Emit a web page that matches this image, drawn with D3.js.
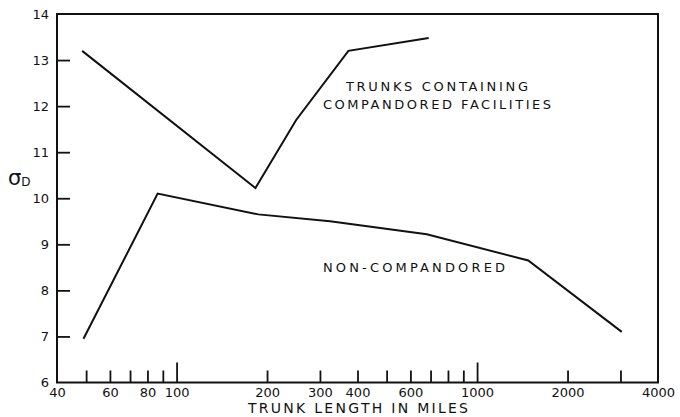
<!DOCTYPE html>
<html>
<head>
<meta charset="utf-8">
<script src="https://cdn.jsdelivr.net/npm/d3@7"></script>
<style>
  html, body { margin: 0; padding: 0; background: #fff; }
  svg { display: block; }
  text { font-family: "DejaVu Sans", sans-serif; fill: #111; }
</style>
</head>
<body>
<svg id="chart" width="680" height="417"></svg>
<script>
// Trunk length (miles) and standard deviation σD for each series
const compandoredMiles  = [48.5, 183, 250, 373, 690];
const compandoredSigma  = [13.2, 10.22, 11.7, 13.2, 13.48];
const nonCompandoredMiles = [49, 86.5, 187, 324, 680, 1480, 3030];
const nonCompandoredSigma = [6.95, 10.1, 9.65, 9.5, 9.22, 8.65, 7.1];

// Axis ticks and labels
const yTickValues = [6, 7, 8, 9, 10, 11, 12, 13, 14];
const xMinorTicks = [50, 60, 70, 80, 90, 200, 300, 400, 500, 600, 700, 800, 900, 2000, 3000];
const xMajorTicks = [100, 1000];
const xLabelValues = [40, 60, 80, 100, 200, 300, 400, 600, 1000, 2000, 4000];

const plotLeft = 57, plotRight = 658, plotTop = 14, plotBottom = 382.5;
const ink = "#111";

const svg = d3.select("#chart");

const x = d3.scaleLog().domain([40, 4000]).range([plotLeft, plotRight]);
const y = d3.scaleLinear().domain([6, 14]).range([plotBottom, plotTop]);

// Frame
svg.append("rect")
  .attr("x", plotLeft).attr("y", plotTop)
  .attr("width", plotRight - plotLeft).attr("height", plotBottom - plotTop)
  .attr("fill", "none").attr("stroke", ink).attr("stroke-width", 2);

function tidy(g) {
  g.select(".domain").remove();
  g.selectAll(".tick line").attr("stroke", ink).attr("stroke-width", 1.8);
  g.selectAll(".tick text").attr("fill", ink);
}

// X ticks point up into the plot
svg.append("g")
  .attr("transform", `translate(0,${plotBottom})`)
  .call(d3.axisTop(x).tickValues(xMinorTicks).tickSize(12).tickFormat(""))
  .call(tidy);
svg.append("g")
  .attr("transform", `translate(0,${plotBottom})`)
  .call(d3.axisTop(x).tickValues(xMajorTicks).tickSize(20).tickFormat(""))
  .call(tidy);
// X labels
svg.append("g")
  .attr("transform", `translate(0,${plotBottom})`)
  .call(d3.axisBottom(x).tickValues(xLabelValues).tickSize(0).tickPadding(5).tickFormat(d3.format("d")))
  .call(tidy)
  .selectAll("text")
  .attr("font-size", 13)
  .attr("font-family", "DejaVu Sans, sans-serif");

// Y ticks point right into the plot
svg.append("g")
  .attr("transform", `translate(${plotLeft},0)`)
  .call(d3.axisRight(y).tickValues(yTickValues.slice(1, -1)).tickSize(13).tickFormat(""))
  .call(tidy);
// Y labels
svg.append("g")
  .attr("transform", `translate(${plotLeft},0)`)
  .call(d3.axisLeft(y).tickValues(yTickValues).tickSize(0).tickPadding(8).tickFormat(d3.format("d")))
  .call(tidy)
  .selectAll("text")
  .attr("font-size", 13)
  .attr("font-family", "DejaVu Sans, sans-serif");

// Y axis symbol σD
const sym = svg.append("text").attr("x", 8).attr("y", 185);
sym.append("tspan").attr("font-size", 21).text("σ");
sym.append("tspan").attr("font-size", 12).attr("dy", 1).text("D");

// X axis title
svg.append("text")
  .attr("x", 358).attr("y", 413)
  .attr("text-anchor", "middle")
  .attr("font-size", 14)
  .attr("textLength", 220).attr("lengthAdjust", "spacing")
  .text("TRUNK LENGTH IN MILES");

// Series lines
const line = d3.line().x(d => x(d[0])).y(d => y(d[1]));
const series = [
  d3.zip(compandoredMiles, compandoredSigma),
  d3.zip(nonCompandoredMiles, nonCompandoredSigma)
];
svg.selectAll("path.series")
  .data(series)
  .join("path")
  .attr("class", "series")
  .attr("d", line)
  .attr("fill", "none")
  .attr("stroke", ink)
  .attr("stroke-width", 2);

// Series annotations
const notes = [
  { text: "TRUNKS CONTAINING", cx: 437, by: 91, w: 182 },
  { text: "COMPANDORED FACILITIES", cx: 437, by: 108.5, w: 228 },
  { text: "NON-COMPANDORED", cx: 414, by: 272, w: 182 }
];
svg.selectAll("text.note")
  .data(notes)
  .join("text")
  .attr("class", "note")
  .attr("x", d => d.cx).attr("y", d => d.by)
  .attr("text-anchor", "middle")
  .attr("font-size", 13)
  .attr("textLength", d => d.w).attr("lengthAdjust", "spacing")
  .text(d => d.text);
</script>
</body>
</html>
